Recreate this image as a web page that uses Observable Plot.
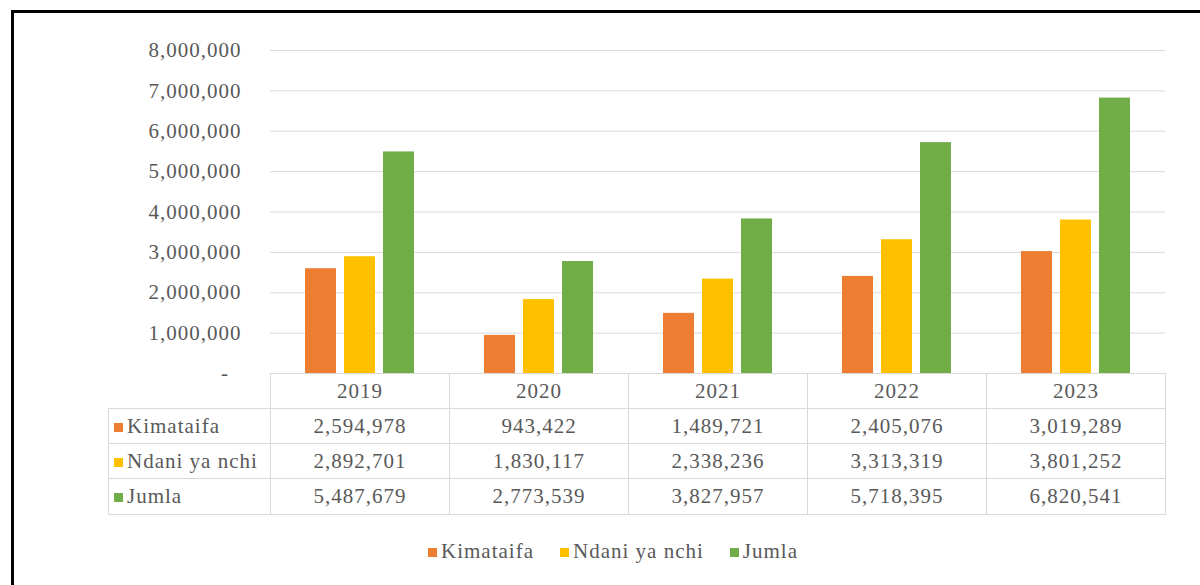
<!DOCTYPE html>
<html><head><meta charset="utf-8">
<script src="https://cdn.jsdelivr.net/npm/d3@7"></script>
<script src="https://cdn.jsdelivr.net/npm/@observablehq/plot@0.6"></script>
<style>
body{margin:0;background:#fff;font-family:'Liberation Serif','Times New Roman',serif;}
#wrap{position:relative;width:1200px;height:585px;overflow:hidden;background:#fff;}
#frame{position:absolute;left:11px;top:10px;width:1300px;height:700px;border-top:3px solid #000;border-left:3px solid #000;box-sizing:border-box;}
#chart{position:absolute;left:0;top:0;}
table{position:absolute;left:108px;top:373px;border-collapse:collapse;table-layout:fixed;color:#595959;font-family:'Liberation Serif','Times New Roman',serif;font-size:21px;letter-spacing:1px;}
td{border:1px solid #d9d9d9;padding:0;text-align:center;white-space:nowrap;line-height:1;font-family:'Liberation Serif','Times New Roman',serif;}
td.lab{text-align:left;padding-left:5px;}
.sw{display:inline-block;width:9px;height:9px;margin-right:4px;vertical-align:1px;}
#legend{position:absolute;top:540px;left:0;width:1226px;display:flex;justify-content:center;gap:26px;color:#595959;font-family:'Liberation Serif','Times New Roman',serif;font-size:21px;letter-spacing:1px;line-height:22px;}
#legend span.item{white-space:nowrap;}
</style></head><body>
<div id="wrap"><div id="frame"></div><div id="chart"></div></div>
<script>
const years = ["2019", "2020", "2021", "2022", "2023"];
const seriesNames = ["Kimataifa", "Ndani ya nchi", "Jumla"];
const kimataifa = [2594978, 943422, 1489721, 2405076, 3019289];
const ndaniYaNchi = [2892701, 1830117, 2338236, 3313319, 3801252];
const jumla = [5487679, 2773539, 3827957, 5718395, 6820541];
const colors = ["#ED7D31", "#FFC000", "#70AD47"];
const yMax = 8000000;

const seriesValues = [kimataifa, ndaniYaNchi, jumla];
const data = years.flatMap((yr, i) => seriesNames.map((s, k) => ({year: yr, series: s, value: seriesValues[k][i]})));
const fmt = d3.format(",");

const W = 1200, H = 585, ML = 270, MR = 35, MT = 50, MB = 212;

const chart = Plot.plot({
  width: W, height: H,
  marginLeft: ML, marginRight: MR, marginTop: MT, marginBottom: MB,
  style: {fontFamily: "'Liberation Serif','Times New Roman',serif", fontSize: "21px", color: "#595959", background: "transparent", letterSpacing: "1px"},
  fx: {domain: years, padding: 0, axis: null},
  x: {domain: seriesNames, paddingInner: 0.194, paddingOuter: 0.847, axis: null},
  y: {domain: [0, yMax], ticks: 8, tickSize: 0, tickPadding: 29, tickFormat: d => d === 0 ? "-\u00a0\u00a0" : fmt(d), label: null},
  color: {domain: seriesNames, range: colors},
  marks: [
    Plot.ruleY(d3.ticks(0, yMax, 8), {stroke: "#d9d9d9", strokeWidth: 1}),
    Plot.barY(data, {fx: "year", x: "series", y: "value", fill: "series"})
  ]
});
document.getElementById("chart").appendChild(chart);

// data table below the chart, aligned with the fx bands
const colW = (W - ML - MR) / years.length;
const table = document.createElement("table");
table.style.width = (ML - 108 + colW * years.length) + "px";
const cg = document.createElement("colgroup");
cg.innerHTML = `<col style="width:${ML - 108}px">` + years.map(() => `<col style="width:${colW}px">`).join("");
table.appendChild(cg);
const hdr = document.createElement("tr");
hdr.style.height = "35px";
hdr.innerHTML = `<td style="border-top:none;border-left:none"></td>` + years.map(y => `<td>${y}</td>`).join("");
table.appendChild(hdr);
seriesNames.forEach((s, k) => {
  const tr = document.createElement("tr");
  tr.style.height = k === 2 ? "36px" : "35px";
  tr.innerHTML = `<td class="lab"><span class="sw" style="background:${colors[k]}"></span>${s}</td>` +
    seriesValues[k].map(v => `<td>${fmt(v)}</td>`).join("");
  table.appendChild(tr);
});
document.getElementById("wrap").appendChild(table);

// legend
const lg = document.createElement("div");
lg.id = "legend";
lg.innerHTML = seriesNames.map((s, k) => `<span class="item"><span class="sw" style="background:${colors[k]}"></span>${s}</span>`).join("");
document.getElementById("wrap").appendChild(lg);
</script>
</body></html>
